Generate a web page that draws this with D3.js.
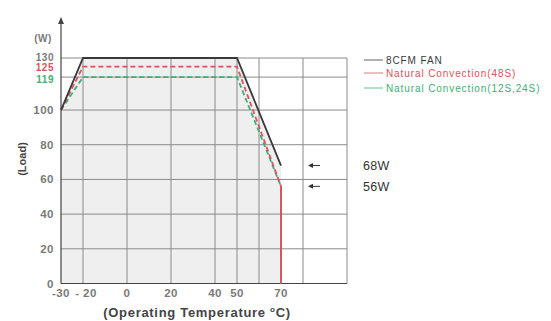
<!DOCTYPE html>
<html>
<head>
<meta charset="utf-8">
<script src="https://cdn.jsdelivr.net/npm/d3@7"></script>
<style>
  body { margin: 0; background: #fff; }
  svg { font-family: Arial, "Liberation Sans", sans-serif; }
</style>
</head>
<body>
<svg id="chart" width="551" height="321"></svg>
<script>
// data
const fanTemps = [-30, -20, 50, 70, 70];
const fanLoad = [100, 130, 130, 68, 0];
const conv48Temps = [-30, -20, 50, 70, 70];
const conv48Load = [100, 125, 125, 56, 0];
const conv12Temps = [-30, -20, 50, 70, 70];
const conv12Load = [100, 119, 119, 56, 0];

const seriesNames = ['8CFM FAN', 'Natural Convection(48S)', 'Natural Convection(12S,24S)'];
const seriesColors = ['#3a3a3a', '#e0505e', '#3daf78'];

const xTicks = [-30, -20, 0, 20, 40, 50, 70];
const xGrid = [-20, 0, 20, 40, 50, 60, 80, 100];
const yTicks = [0, 20, 40, 60, 80, 100, 119, 125, 130];
const yTickColors = { 119: '#3daf78', 125: '#e0505e' };
const yGrid = [20, 40, 60, 80, 100, 119, 130];
const notes = [{ label: '68W', v: 68 }, { label: '56W', v: 56 }];

const svg = d3.select('#chart');

const x = d3.scaleLinear().domain([-30, 100]).range([61, 347]);
const y = d3.scaleLinear().domain([0, 130]).range([283.5, 58]);

// shaded area under the fan curve
const area = d3.area()
    .x(d => x(d[0]))
    .y0(y(0))
    .y1(d => y(d[1]));
svg.append('path')
    .datum(d3.zip(fanTemps, fanLoad))
    .attr('d', area)
    .attr('fill', '#efefef');

// grid
svg.append('g').selectAll('line')
    .data(xGrid)
    .join('line')
    .attr('x1', d => x(d)).attr('x2', d => x(d))
    .attr('y1', y(0)).attr('y2', y(130))
    .attr('stroke', '#8a8a8a').attr('stroke-width', 1);

svg.append('g').selectAll('line')
    .data(yGrid)
    .join('line')
    .attr('x1', x(-30)).attr('x2', x(100))
    .attr('y1', d => y(d)).attr('y2', d => y(d))
    .attr('stroke', '#8a8a8a').attr('stroke-width', 1);

// axes
svg.append('line')
    .attr('x1', x(-30)).attr('x2', x(-30))
    .attr('y1', y(0)).attr('y2', 22)
    .attr('stroke', '#444').attr('stroke-width', 1.2);
svg.append('path')
    .attr('d', `M${x(-30) - 3},24 L${x(-30)},17 L${x(-30) + 3},24 Z`)
    .attr('fill', '#444');
svg.append('line')
    .attr('x1', x(-30)).attr('x2', x(100))
    .attr('y1', y(0)).attr('y2', y(0))
    .attr('stroke', '#444').attr('stroke-width', 1.2);

// curves
const line = d3.line().x(d => x(d[0])).y(d => y(d[1]));
const curves = [
    { pts: d3.zip(conv12Temps, conv12Load), color: seriesColors[2], dash: '5,3' },
    { pts: d3.zip(conv48Temps, conv48Load), color: seriesColors[1], dash: '5,3' },
    { pts: d3.zip(fanTemps, fanLoad).slice(0, 4), color: seriesColors[0], dash: null }
];
svg.append('g').selectAll('path')
    .data(curves)
    .join('path')
    .attr('d', d => line(d.pts))
    .attr('fill', 'none')
    .attr('stroke', d => d.color)
    .attr('stroke-width', 1.8)
    .attr('stroke-dasharray', d => d.dash);
// vertical cut-off at 70
svg.append('line')
    .attr('x1', x(70)).attr('x2', x(70))
    .attr('y1', y(56)).attr('y2', y(0))
    .attr('stroke', seriesColors[1]).attr('stroke-width', 1.8);

// tick labels
svg.append('g').selectAll('text')
    .data(xTicks)
    .join('text')
    .attr('x', d => x(d) + (d === -20 ? 3 : 0))
    .attr('y', 297)
    .attr('text-anchor', 'middle')
    .attr('font-size', 11.5)
    .attr('font-weight', 'bold')
    .attr('letter-spacing', 0.4)
    .attr('fill', '#7a7a7a')
    .text(d => d === -20 ? '- 20' : d);

const yNudge = { 130: -1.5, 125: 0, 119: 1.5 };
svg.append('g').selectAll('text')
    .data(yTicks)
    .join('text')
    .attr('x', 54)
    .attr('y', d => y(d) + 4 + (yNudge[d] || 0))
    .attr('text-anchor', 'end')
    .attr('font-size', d => d > 100 ? 10 : 11.5)
    .attr('font-weight', 'bold')
    .attr('letter-spacing', 0.5)
    .attr('fill', d => yTickColors[d] || '#7a7a7a')
    .text(d => d);

// axis titles
svg.append('text')
    .attr('x', 43).attr('y', 42)
    .attr('text-anchor', 'middle')
    .attr('font-size', 10)
    .attr('font-weight', 'bold')
    .attr('letter-spacing', 0.4)
    .attr('fill', '#7a7a7a')
    .text('(W)');

svg.append('text')
    .attr('transform', 'translate(26,159) rotate(-90)')
    .attr('text-anchor', 'middle')
    .attr('font-size', 11)
    .attr('font-weight', 'bold')
    .attr('fill', '#444')
    .text('(Load)');

const xt = svg.append('text')
    .attr('x', 197).attr('y', 317)
    .attr('text-anchor', 'middle')
    .attr('font-size', 13)
    .attr('font-weight', 'bold')
    .attr('letter-spacing', 0.7)
    .attr('fill', '#444');
xt.append('tspan').text('(Operating Temperature ');
xt.append('tspan').attr('dy', -5).attr('font-size', 8).text('o');
xt.append('tspan').attr('dy', 5).text('C)');

// annotations
const ann = svg.append('g').selectAll('g')
    .data(notes)
    .join('g');
ann.append('line')
    .attr('x1', 312).attr('x2', 320)
    .attr('y1', d => y(d.v)).attr('y2', d => y(d.v))
    .attr('stroke', '#333').attr('stroke-width', 1);
ann.append('path')
    .attr('d', d => `M308,${y(d.v)} l5,-2.5 l0,5 Z`)
    .attr('fill', '#333');
ann.append('text')
    .attr('x', 363)
    .attr('y', d => y(d.v) + 4.5)
    .attr('font-size', 12.5)
    .attr('letter-spacing', 0.3)
    .attr('fill', '#333')
    .text(d => d.label);

// legend
const legY = [60, 73, 88];
const leg = svg.append('g').selectAll('g')
    .data(seriesNames)
    .join('g')
    .attr('transform', (d, i) => `translate(364,${legY[i]})`);
leg.append('line')
    .attr('x1', 0).attr('x2', 19)
    .attr('stroke', (d, i) => seriesColors[i])
    .attr('stroke-width', 0.8);
leg.append('text')
    .attr('x', 22).attr('y', 3.5)
    .attr('font-size', 10)
    .attr('letter-spacing', 0.9)
    .attr('fill', (d, i) => seriesColors[i])
    .text(d => d);
</script>
</body>
</html>
